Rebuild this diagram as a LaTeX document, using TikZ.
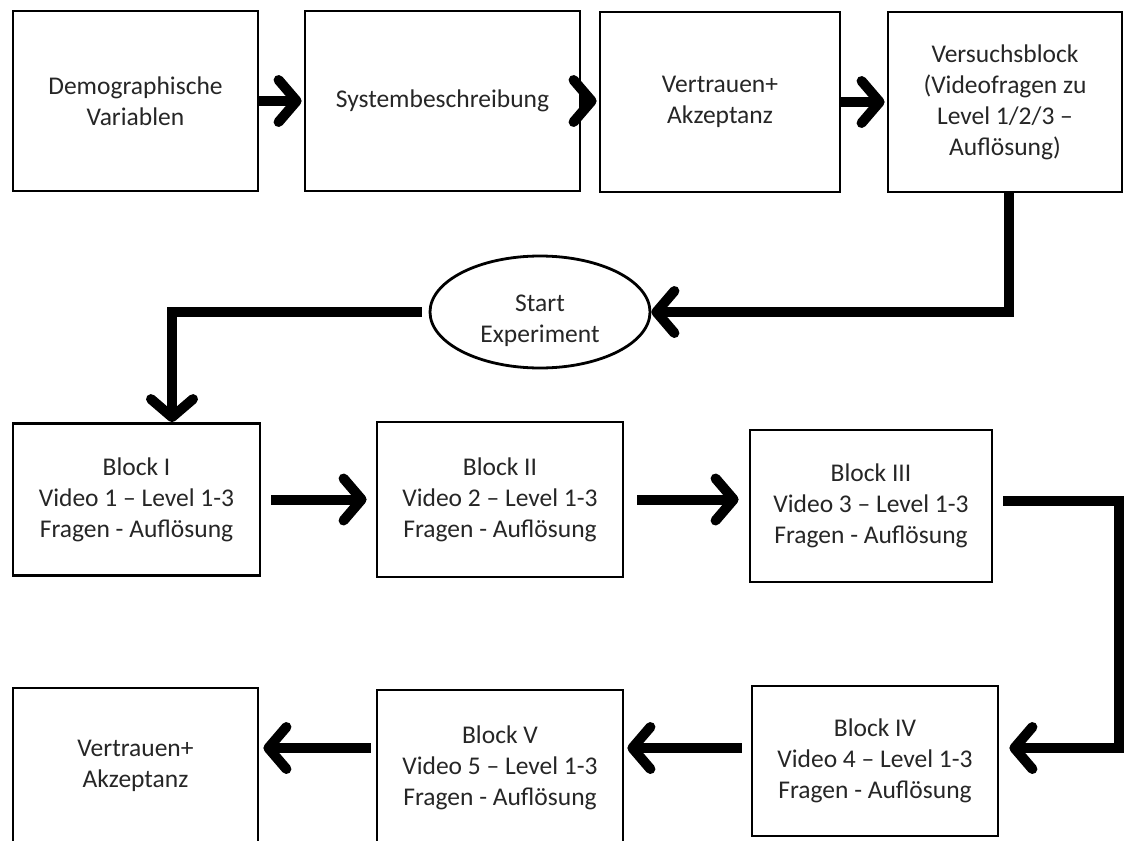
\documentclass[tikz,border=0pt]{standalone}
\usepackage{fontspec}
\setmainfont{Carlito}
\usetikzlibrary{arrows.meta,shapes.geometric}
\begin{document}
\begin{tikzpicture}[x=1pt,y=-1pt,
  box/.style={draw=black, line width=2.8pt, fill=white, align=center,
    inner sep=0pt, text=black!85, font=\fontsize{25.5}{31}\selectfont},
  flow/.style={line width=10pt, -{Straight Barb[length=18pt,width=42pt,round]}}]
\useasboundingbox (0,0) rectangle (1125,841);

% top row
\node[box, minimum width=245pt, minimum height=180pt] (demo) at (135.5,101) {Demographische\\Variablen};
\node[box, minimum width=275pt, minimum height=180pt] (sys) at (442.5,101) {Systembeschreibung};
\node[box, minimum width=240pt, minimum height=180pt] (vta) at (720,102) {Vertrauen+\\Akzeptanz};
\node[box, minimum width=234pt, minimum height=180pt] (vb) at (1005,102) {Versuchsblock\\(Videofragen zu\\Level 1/2/3 –\\Auflösung)};

% start of the experiment (strut on the first line sets the text a little lower)
\node[box, ellipse, minimum width=220pt, minimum height=112pt] (start) at (540,312) {\rule{0pt}{34pt}Start\\Experiment};

% blocks I-III
\node[box, minimum width=247pt, minimum height=152pt] (b1) at (136.5,499.5) {Block I\\Video 1 – Level 1-3\\Fragen - Auflösung};
\node[box, minimum width=246pt, minimum height=155pt] (b2) at (500,499.5) {Block II\\Video 2 – Level 1-3\\Fragen - Auflösung};
\node[box, minimum width=242pt, minimum height=152pt] (b3) at (871,506) {Block III\\Video 3 – Level 1-3\\Fragen - Auflösung};

% blocks IV-V and final questionnaire
\node[box, minimum width=246pt, minimum height=150pt] (b4) at (875,761) {Block IV\\Video 4 – Level 1-3\\Fragen - Auflösung};
\node[box, minimum width=246pt, minimum height=156pt] (b5) at (500,768) {Block V\\Video 5 – Level 1-3\\Fragen - Auflösung};
\node[box, minimum width=245pt, minimum height=156pt] (v2) at (135.5,766) {Vertrauen+\\Akzeptanz};

\coordinate (rt) at (1119,501);
\coordinate (rb) at (1119,748);

% connectors
\draw[flow, shorten >=2pt] (demo) -- (sys);
\draw[flow, shorten >=2pt] (sys.east) -- (vta.west |- sys.east);
\draw[flow, shorten >=2pt] (vta.east) -- (vb.west |- vta.east);
\draw[flow] ([xshift=4pt]vb.south) |- (start.east);
\draw[flow, shorten <=7pt] (start.west) -| ([xshift=35.5pt]b1.north);
\draw[flow, shorten <=10pt, shorten >=9pt] (b1) -- (b2);
\draw[flow, shorten <=13pt, shorten >=10pt] (b2.east) -- (b3.west |- b2.east);
\draw[flow, shorten <=10pt, shorten >=10pt] (b3.east |- rt) -- (rt) -- (rb) -- (b4.east |- rb);
\draw[flow, shorten <=9pt, shorten >=3pt] (b4.west |- rb) -- (b5.east |- rb);
\draw[flow, shorten <=5pt, shorten >=4pt] (b5.west |- rb) -- (v2.east |- rb);
\end{tikzpicture}
\end{document}
